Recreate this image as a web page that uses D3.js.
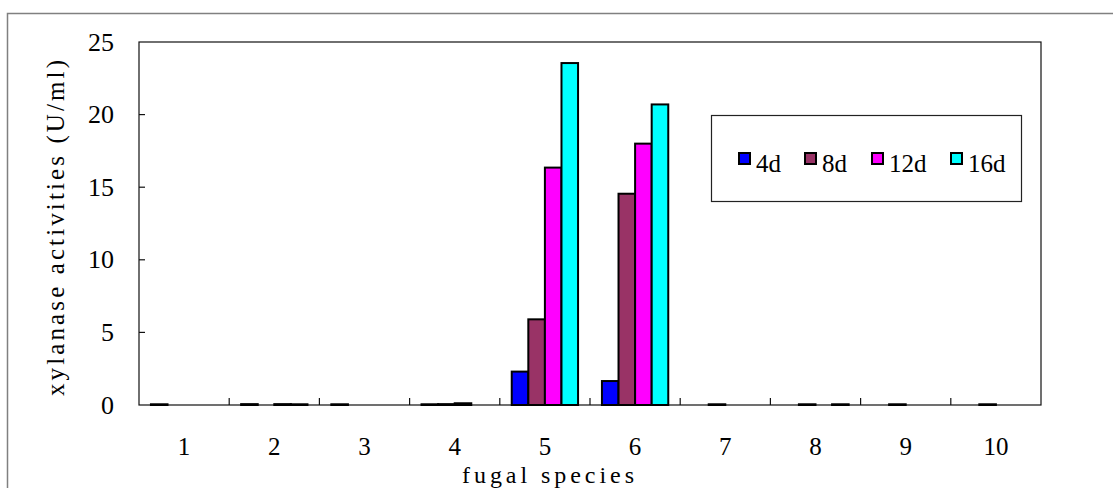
<!DOCTYPE html>
<html>
<head>
<meta charset="utf-8">
<script src="https://cdn.jsdelivr.net/npm/d3@7"></script>
<style>
  body { margin: 0; background: #fff; }
  svg { display: block; }
</style>
</head>
<body>
<svg width="1113" height="488"></svg>
<script>
const species = ['1', '2', '3', '4', '5', '6', '7', '8', '9', '10'];
const series = ['4d', '8d', '12d', '16d'];
const colors = ['#0000ff', '#993366', '#ff00ff', '#00ffff'];

const d4 = [0.05, 0.06, 0.05, 0.05, 2.3, 1.65, 0, 0, 0, 0];
const d8 = [0, 0, 0, 0.06, 5.9, 14.55, 0.05, 0.05, 0.05, 0.05];
const d12 = [0, 0.06, 0, 0.12, 16.35, 18.0, 0, 0, 0, 0];
const d16 = [0, 0.05, 0, 0, 23.55, 20.7, 0, 0.05, 0, 0];
const yTicks = [0, 5, 10, 15, 20, 25];

const values = [d4, d8, d12, d16];

const svg = d3.select('svg');
const plotLeft = 139, plotRight = 1041, plotTop = 42, plotBottom = 405;

// outer frame (left and top edges only visible)
svg.append('path')
    .attr('d', 'M7.5,488 L7.5,13.5 L1113,13.5')
    .attr('fill', 'none')
    .attr('stroke', '#808080')
    .attr('stroke-width', 1.5);

const x0 = d3.scaleBand().domain(species).range([plotLeft, plotRight]).paddingInner(0).paddingOuter(0);
const x1 = d3.scaleBand().domain(series).range([0, x0.bandwidth()]).paddingInner(0).paddingOuter(0.72);
const y = d3.scaleLinear().domain([0, 25]).range([plotBottom, plotTop]);

const serif = '"Liberation Serif", "DejaVu Serif", serif';

// plot border
svg.append('rect')
    .attr('x', plotLeft).attr('y', plotTop)
    .attr('width', plotRight - plotLeft).attr('height', plotBottom - plotTop)
    .attr('fill', 'none').attr('stroke', '#111').attr('stroke-width', 1.2);

// y ticks (inward)
const yg = svg.append('g');
yTicks.forEach(t => {
    if (t > 0 && t < 25) {
        yg.append('line')
            .attr('x1', plotLeft).attr('x2', plotLeft + 6)
            .attr('y1', y(t)).attr('y2', y(t))
            .attr('stroke', '#111').attr('stroke-width', 1.2);
    }
    yg.append('text')
        .attr('x', plotLeft - 25).attr('y', y(t))
        .attr('text-anchor', 'end').attr('dominant-baseline', 'central')
        .attr('font-family', serif).attr('font-size', 26)
        .text(t);
});

// x ticks between categories (inward)
species.slice(1).forEach(s => {
    svg.append('line')
        .attr('x1', x0(s)).attr('x2', x0(s))
        .attr('y1', plotBottom).attr('y2', plotBottom - 7)
        .attr('stroke', '#111').attr('stroke-width', 1.2);
});
species.forEach(s => {
    svg.append('text')
        .attr('x', x0(s) + x0.bandwidth() / 2).attr('y', 455)
        .attr('text-anchor', 'middle')
        .attr('font-family', serif).attr('font-size', 25)
        .text(s);
});

// bars
const groups = svg.append('g').selectAll('g')
    .data(species)
    .join('g')
    .attr('transform', d => `translate(${x0(d)},0)`);

groups.selectAll('rect')
    .data((d, i) => series.map((k, j) => ({ key: k, idx: j, value: values[j][i] })).filter(d => d.value > 0))
    .join('rect')
    .attr('x', d => x1(d.key))
    .attr('y', d => y(d.value))
    .attr('width', x1.bandwidth())
    .attr('height', d => y(0) - y(d.value))
    .attr('fill', d => colors[d.idx])
    .attr('stroke', '#000')
    .attr('stroke-width', 2);

// axis titles (monospaced-looking, spread to the reference width)
svg.append('text')
    .attr('x', 548).attr('y', 483)
    .attr('text-anchor', 'middle')
    .attr('font-family', serif).attr('font-size', 24)
    .attr('textLength', 172).attr('lengthAdjust', 'spacing')
    .text('fugal species');

svg.append('text')
    .attr('transform', 'translate(55,228) rotate(-90)')
    .attr('text-anchor', 'middle').attr('dominant-baseline', 'central')
    .attr('font-family', serif).attr('font-size', 25)
    .attr('textLength', 336).attr('lengthAdjust', 'spacing')
    .text('xylanase activities (U/ml)');

// legend
const legend = svg.append('g');
legend.append('rect')
    .attr('x', 711.5).attr('y', 115.5)
    .attr('width', 310).attr('height', 86)
    .attr('fill', '#fff').attr('stroke', '#222').attr('stroke-width', 1.2);

const legendX = [739, 805, 872, 951];
series.forEach((s, i) => {
    legend.append('rect')
        .attr('x', legendX[i]).attr('y', 153)
        .attr('width', 11).attr('height', 11)
        .attr('fill', colors[i])
        .attr('stroke', '#000').attr('stroke-width', 2);
    legend.append('text')
        .attr('x', legendX[i] + 17).attr('y', 172)
        .attr('font-family', serif).attr('font-size', 25)
        .text(s);
});
</script>
</body>
</html>
